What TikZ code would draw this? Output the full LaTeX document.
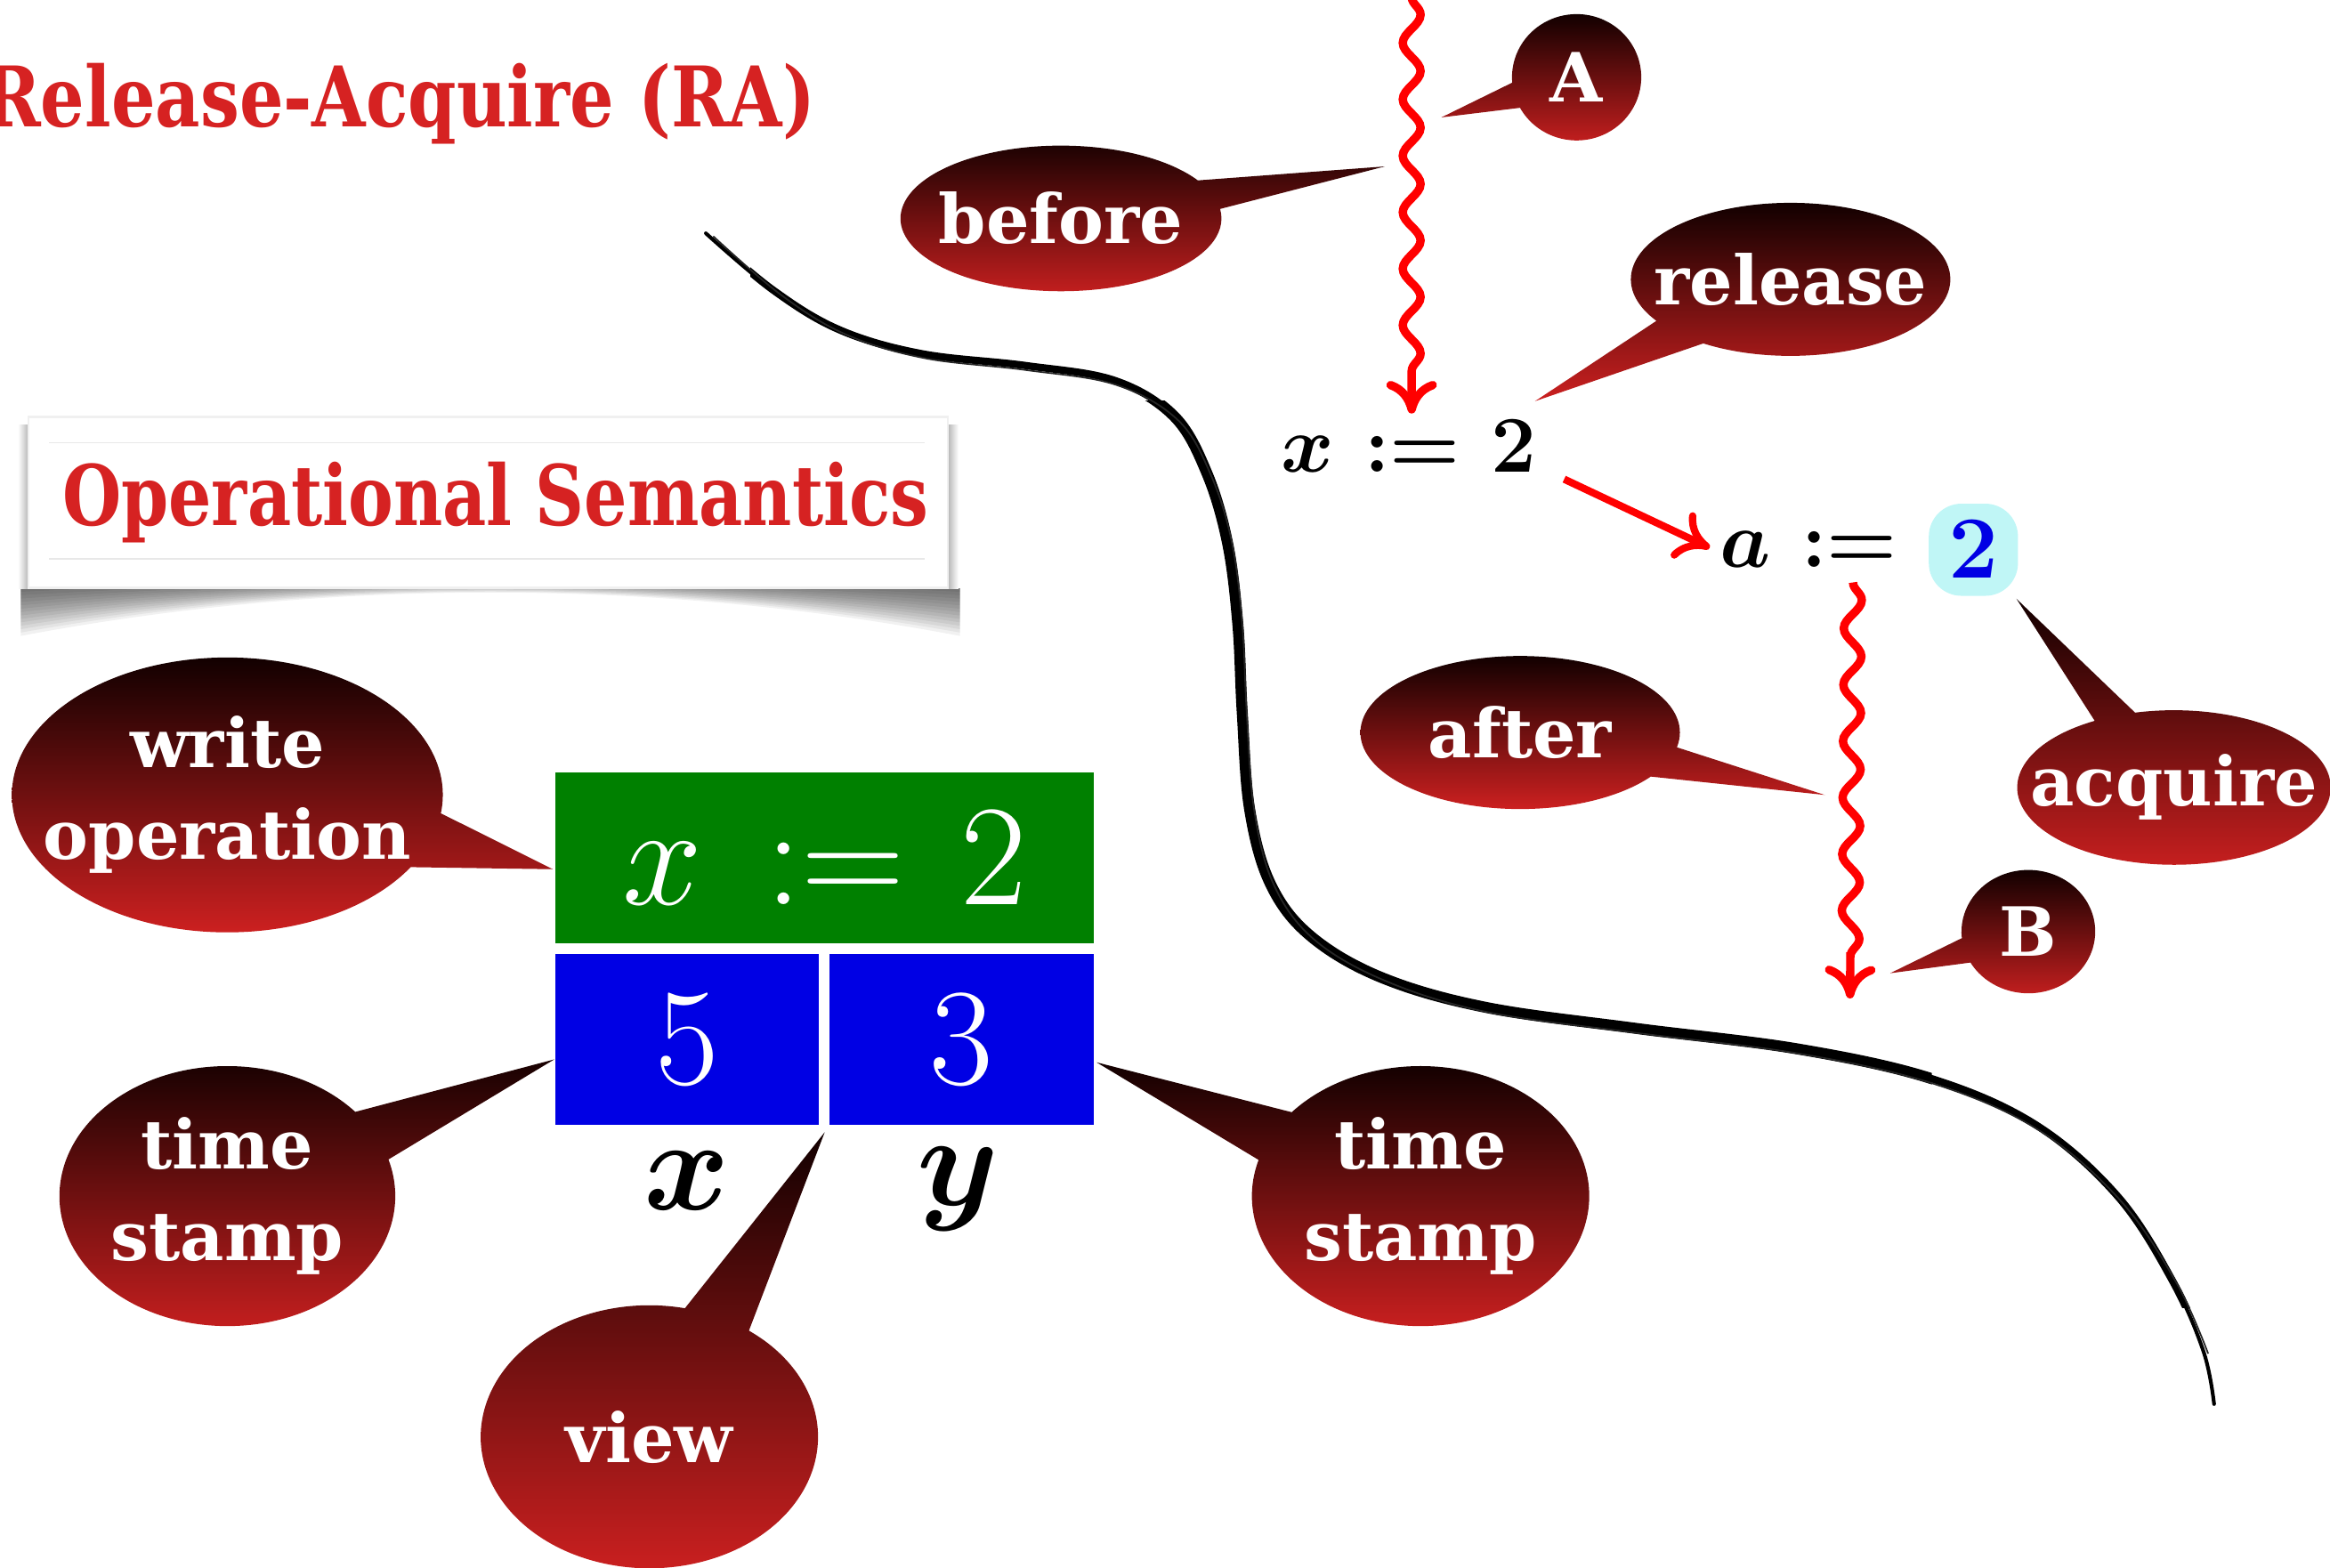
\RequirePackage{fix-cm}
\documentclass[tikz,border=0pt]{standalone}
\usepackage[no-math]{fontspec}
\usepackage{amsmath}
\setmainfont{DejaVu Serif}
\usetikzlibrary{shapes.callouts,decorations.pathmorphing,arrows.meta}
\definecolor{ttred}{RGB}{214,34,34}
\definecolor{cdark}{RGB}{18,0,0}
\definecolor{cred}{RGB}{204,32,32}
\definecolor{okgreen}{RGB}{0,128,0}
\definecolor{vblue}{RGB}{0,0,228}
\definecolor{lcyan}{RGB}{192,246,246}
\definecolor{wred}{RGB}{255,0,0}
\newcommand\cofont{\fontsize{13}{17.5}\selectfont\bfseries}
\newcommand\brushpath{plot[smooth, tension=0.6] coordinates {(475,157) (520,195) (565,222) (620,238) (690,246) (750,256) (790,280) (812,318) (826,365) (833,420) (836,480) (841,545) (855,595) (882,630) (930,658) (1000,678) (1100,692) (1210,706) (1300,726) (1370,757) (1425,805) (1462,862) (1483,910) (1490,945)}}
\begin{document}
\begin{tikzpicture}[x=0.1mm,y=-0.1mm,
  bubble/.style={ellipse callout, top color=cdark, bottom color=cred, inner sep=0pt,
    callout pointer arc=24},
  btext/.style={text=white, font=\cofont, align=center, inner sep=0pt},
  wavy/.style={wred, line width=1.6pt, decorate,
    decoration={snake, amplitude=0.6mm, segment length=3.8mm, post length=2.6mm}},
  redtip/.style={-{Computer Modern Rightarrow[length=2.2mm,width=3.4mm]}},
  cell/.style={minimum height=11.5mm, inner sep=0pt, text=white, font=\fontsize{26.5}{26.5}\selectfont},
  mathlbl/.style={inner sep=1pt, font=\fontsize{15.4}{15.4}\selectfont\boldmath}]
\useasboundingbox (0,0) rectangle (1568,1055);
% title
\node[anchor=west, text=ttred, font=\fontsize{16}{16}\selectfont\bfseries, inner sep=0pt] (title) at (-12,70) {\scalebox{0.83}[1]{Release-Acquire (RA)}};
% operational semantics box with curved shadow
\foreach \k in {1,...,14} {
  \fill[black, opacity=0.055] (14,396) -- (646,396) -- (646,{396+32*\k/14}) .. controls (440,{388+1*\k/14}) and (220,{388+1*\k/14}) .. (14,{396+32*\k/14}) -- cycle;
}
\shade[left color=white, right color=black!28] (12,286) rectangle (19,396);
\shade[left color=black!28, right color=white] (638,286) rectangle (645,396);
\node[fill=white, draw=black!6, minimum width=61.9mm, minimum height=11.5mm, inner sep=0pt] (opbox) at (328.5,338) {};
\draw[black!9, line width=0.3pt] (33,298) -- (622,298) (33,376) -- (622,376);
\node[text=ttred, font=\fontsize{16}{16}\selectfont\bfseries, inner sep=0pt] (optext) at (333.5,338) {\scalebox{0.81}[1]{Operational Semantics}};
% brush curve
\draw[line width=0.7pt, line cap=round] \brushpath;
\begin{scope}
  \clip (505,0) rectangle (1478,880);
  \draw[line width=1.4pt] \brushpath;
\end{scope}
\begin{scope}
  \clip (760,270) rectangle (1300,880);
  \draw[line width=2.1pt] \brushpath;
\end{scope}
\draw[line width=0.3pt, black!85] plot[smooth, tension=0.6] coordinates {(480,159) (525,198) (569,225) (622,241) (690,249) (751,259) (793,283) (815,320) (829,365) (836,420) (839,480) (844,545) (857,595) (884,632) (932,660) (1000,681) (1100,695) (1210,709) (1300,729) (1371,760) (1427,808) (1465,864) (1486,911)};
% math
\node[mathlbl] (xa) at (948,300) {$x \mskip1mu\mathrel{:=}\mskip1mu \mathbf{2}$};
\node[mathlbl, anchor=east] (asg) at (1281,370) {$a \mskip1mu\mathrel{:=}$};
\node[fill=lcyan, rounded corners=2.2mm, minimum width=6mm, minimum height=6.2mm, inner sep=0pt, font=\fontsize{17}{17}\selectfont, text=vblue] (two) at (1328,370) {$\mathbf{2}$};
% memory cells
\node[cell, fill=okgreen, minimum width=36.2mm, font=\fontsize{27.5}{27.5}\selectfont] (wop) at (555,577.5) {$x \mskip3mu\mathrel{:=}\mskip2mu 2$};
\node[cell, fill=vblue, minimum width=17.7mm] (vx) at (462.5,699.5) {$5$};
\node[cell, fill=vblue, minimum width=17.8mm] (vy) at (647,699.5) {$3$};
\node[font=\fontsize{25}{25}\selectfont, inner sep=0pt] (lx) at (462,795) {$\boldsymbol{x}$};
\node[font=\fontsize{25}{25}\selectfont, inner sep=0pt] (ly) at (645,800) {$\boldsymbol{y}$};
% arrows
\coordinate (w1top) at (950,-2);
\coordinate (w2top) at (1247,392);
\coordinate (w2end) at (1245,672);
\draw[wavy, redtip] (w1top) -- (xa.north -| w1top);
\draw[wavy, redtip] (w2top) -- (w2end);
\draw[wred, line width=1.4pt, redtip, shorten <=1.6mm, shorten >=0.3mm] ([yshift=0.6mm]xa.south east) -- (asg.west);
% callout tips
\coordinate (tA) at (970,79);
\coordinate (tbefore) at (932,112);
\coordinate (trelease) at (1033,270);
\coordinate (twrite) at (372,585);
\coordinate (tafter) at (1228,535);
\coordinate (tacq) at (1357,403);
\coordinate (tB) at (1272,655);
\coordinate (tts1) at (373,713);
\coordinate (tts2) at (738,715);
\coordinate (tview) at (555,762);
% callouts
\node[bubble, minimum width=8.7mm, minimum height=8.5mm, callout absolute pointer={(tA)}, label={[btext]center:A}] (cA) at (1061,52) {};
\node[bubble, minimum width=21.6mm, minimum height=9.8mm, callout absolute pointer={(tbefore)}, label={[btext]center:before}] (cbefore) at (714,147) {};
\node[bubble, minimum width=21.5mm, minimum height=10.3mm, callout absolute pointer={(trelease)}, label={[btext]center:release}] (crelease) at (1205,188) {};
\node[bubble, minimum width=29mm, minimum height=18.5mm, callout absolute pointer={(twrite)}, label={[btext]center:{write\\operation}}] (cwrite) at (153,535) {};
\node[bubble, minimum width=21.5mm, minimum height=10.3mm, callout absolute pointer={(tafter)}, label={[btext]center:after}] (cafter) at (1023,493) {};
\node[bubble, minimum width=21.1mm, minimum height=10.4mm, callout pointer arc=16, callout absolute pointer={(tacq)}, label={[btext]center:acquire}] (cacq) at (1463,530) {};
\node[bubble, minimum width=9mm, minimum height=8.3mm, callout absolute pointer={(tB)}, label={[btext]center:B}] (cB) at (1365,627) {};
\node[bubble, minimum width=22.6mm, minimum height=17.5mm, callout absolute pointer={(tts1)}, label={[btext]center:{time\\stamp}}] (cts1) at (153,805) {};
\node[bubble, minimum width=22.7mm, minimum height=17.5mm, callout absolute pointer={(tts2)}, label={[btext]center:{time\\stamp}}] (cts2) at (956,805) {};
\node[bubble, minimum width=22.7mm, minimum height=17.7mm, callout absolute pointer={(tview)}, label={[btext]center:view}] (cview) at (437,967) {};
\end{tikzpicture}
\end{document}
